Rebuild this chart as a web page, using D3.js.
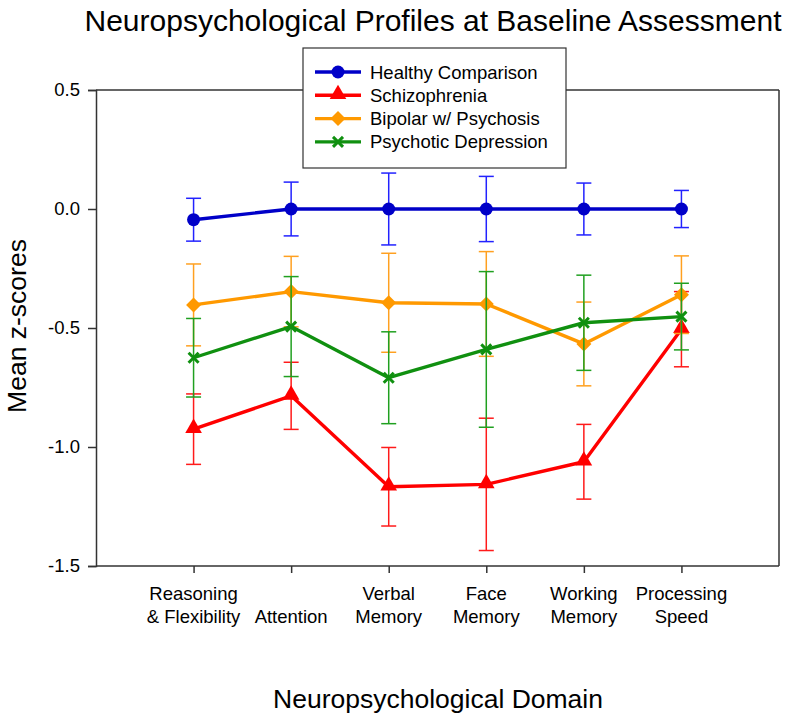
<!DOCTYPE html>
<html>
<head>
<meta charset="utf-8">
<script src="https://cdn.jsdelivr.net/npm/d3@7"></script>
<style>
  html, body { margin: 0; padding: 0; background: #fff; }
  text { font-family: "Liberation Sans", Arial, sans-serif; fill: #000; }
</style>
</head>
<body>
<svg id="chart" width="800" height="716"></svg>
<script>
// ---- data ----
const categories = [
  ["Reasoning", "& Flexibility"],
  ["Attention"],
  ["Verbal", "Memory"],
  ["Face", "Memory"],
  ["Working", "Memory"],
  ["Processing", "Speed"]
];
const seriesNames = ["Healthy Comparison", "Schizophrenia", "Bipolar w/ Psychosis", "Psychotic Depression"];
const healthyMeans = [-0.045, 0.0, 0.0, 0.0, 0.0, 0.0];
const healthyErr   = [0.09, 0.113, 0.151, 0.137, 0.109, 0.078];
const schizMeans   = [-0.925, -0.785, -1.167, -1.157, -1.062, -0.505];
const schizErr     = [0.148, 0.141, 0.165, 0.278, 0.157, 0.158];
const bipolarMeans = [-0.403, -0.347, -0.394, -0.399, -0.567, -0.360];
const bipolarErr   = [0.172, 0.148, 0.208, 0.220, 0.176, 0.163];
const depMeans     = [-0.625, -0.494, -0.709, -0.590, -0.478, -0.452];
const depErr       = [0.165, 0.210, 0.193, 0.327, 0.200, 0.140];
const yTicks = [0.5, 0.0, -0.5, -1.0, -1.5];

const series = [
  { name: seriesNames[0], means: healthyMeans, err: healthyErr, line: "#0000c8", bar: "#2222ff", marker: "circle" },
  { name: seriesNames[1], means: schizMeans,   err: schizErr,   line: "#ff0000", bar: "#ff1a1a", marker: "triangle" },
  { name: seriesNames[2], means: bipolarMeans, err: bipolarErr, line: "#ff9900", bar: "#ffa020", marker: "diamond" },
  { name: seriesNames[3], means: depMeans,     err: depErr,     line: "#109010", bar: "#20a020", marker: "cross" }
];

// ---- layout ----
const svg = d3.select("#chart");
const L = 96, R = 779, T = 90, B = 566;
const x = d3.scaleLinear().domain([0, 7]).range([L, R]);
const y = d3.scaleLinear().domain([-1.5, 0.5]).range([B, T]);

// frame (top & right)
svg.append("line").attr("x1", L).attr("x2", R).attr("y1", T).attr("y2", T)
  .attr("stroke", "#333").attr("stroke-width", 1.5);
svg.append("line").attr("x1", R).attr("x2", R).attr("y1", T).attr("y2", B)
  .attr("stroke", "#333").attr("stroke-width", 1.5);

// y axis
const yAxis = d3.axisLeft(y).tickValues(yTicks).tickFormat(d3.format(".1f")).tickSize(8).tickPadding(8);
const gy = svg.append("g").attr("transform", `translate(${L},0)`).call(yAxis);
gy.select(".domain").attr("stroke", "#333").attr("stroke-width", 1.5);
gy.selectAll(".tick line").attr("stroke", "#333").attr("stroke-width", 1.5);
gy.selectAll(".tick text").style("font-size", "18.5px").style("font-family", "'Liberation Sans', Arial, sans-serif")
  .text(d => d3.format(".1f")(d).replace("−", "-"));

// x axis
const xAxis = d3.axisBottom(x).tickValues(d3.range(1, 7)).tickSize(7).tickFormat("");
const gx = svg.append("g").attr("transform", `translate(0,${B})`).call(xAxis);
gx.select(".domain").attr("stroke", "#333").attr("stroke-width", 1.5)
  .attr("d", `M${L},0H${R}`);
gx.selectAll(".tick line").attr("stroke", "#333").attr("stroke-width", 1.5);

// category labels (bottom aligned)
categories.forEach((lines, i) => {
  const t = svg.append("text").attr("text-anchor", "middle")
    .attr("x", x(i + 1)).style("font-size", "18.5px");
  const n = lines.length;
  lines.forEach((s, k) => {
    t.append("tspan").attr("x", x(i + 1)).attr("y", 623 - (n - 1 - k) * 23).text(s);
  });
});

// marker drawing
function drawMarker(g, type, cx, cy, color) {
  if (type === "circle") {
    g.append("circle").attr("cx", cx).attr("cy", cy).attr("r", 6.5).attr("fill", color);
  } else if (type === "triangle") {
    const s = d3.symbol().type(d3.symbolTriangle).size(120);
    g.append("path").attr("d", s()).attr("transform", `translate(${cx},${cy - 1})`).attr("fill", color);
  } else if (type === "diamond") {
    const r = 7.5;
    g.append("path").attr("d", `M${cx},${cy - r}L${cx + r},${cy}L${cx},${cy + r}L${cx - r},${cy}Z`).attr("fill", color);
  } else if (type === "cross") {
    const r = 5;
    g.append("path").attr("d", `M${cx - r},${cy - r}L${cx + r},${cy + r}M${cx - r},${cy + r}L${cx + r},${cy - r}`)
      .attr("stroke", color).attr("stroke-width", 3).attr("fill", "none");
  }
}

// series
const lineGen = d3.line().x((d, i) => x(i + 1)).y(d => y(d));
series.forEach(s => {
  const g = svg.append("g");
  // error bars
  s.means.forEach((m, i) => {
    const cx = x(i + 1), y1 = y(m + s.err[i]), y2 = y(m - s.err[i]);
    g.append("line").attr("x1", cx).attr("x2", cx).attr("y1", y1).attr("y2", y2)
      .attr("stroke", s.bar).attr("stroke-width", 1.5);
    [y1, y2].forEach(yy => g.append("line").attr("x1", cx - 7.5).attr("x2", cx + 7.5)
      .attr("y1", yy).attr("y2", yy).attr("stroke", s.bar).attr("stroke-width", 1.5));
  });
  g.append("path").datum(s.means).attr("d", lineGen).attr("fill", "none")
    .attr("stroke", s.line).attr("stroke-width", 3.4).attr("stroke-linejoin", "round");
  s.means.forEach((m, i) => drawMarker(g, s.marker, x(i + 1), y(m), s.line));
});

// legend
const lg = svg.append("g");
lg.append("rect").attr("x", 303).attr("y", 48).attr("width", 263).attr("height", 120)
  .attr("fill", "#fff").attr("stroke", "#333").attr("stroke-width", 1.2);
series.forEach((s, k) => {
  const cy = 72 + k * 23.3;
  lg.append("line").attr("x1", 315).attr("x2", 361).attr("y1", cy).attr("y2", cy)
    .attr("stroke", s.line).attr("stroke-width", 3.4);
  drawMarker(lg, s.marker, 338, cy, s.line);
  lg.append("text").attr("x", 370).attr("y", cy + 6.5).style("font-size", "18.5px").text(s.name);
});

// titles
svg.append("text").attr("x", 433).attr("y", 31).attr("text-anchor", "middle")
  .style("font-size", "30px").text("Neuropsychological Profiles at Baseline Assessment");
svg.append("text").attr("transform", "translate(26,326) rotate(-90)").attr("text-anchor", "middle")
  .style("font-size", "26.5px").text("Mean z-scores");
svg.append("text").attr("x", 438).attr("y", 708).attr("text-anchor", "middle")
  .style("font-size", "26.5px").text("Neuropsychological Domain");
</script>
</body>
</html>
